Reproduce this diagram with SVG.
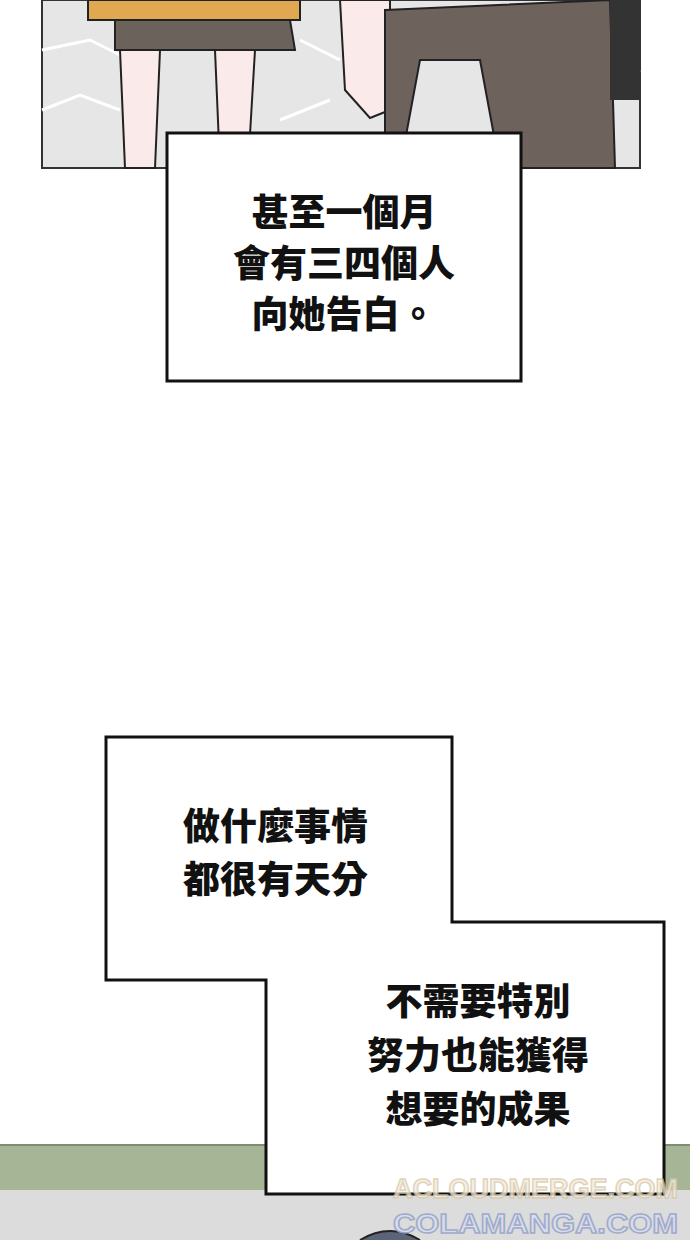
<svg xmlns="http://www.w3.org/2000/svg" width="690" height="1240" viewBox="0 0 690 1240">
<style>
.t{font-family:"Noto Sans CJK TC","Noto Sans CJK SC",sans-serif;font-weight:900;font-size:37px;fill:#111}
.box{fill:#fff;stroke:#111;stroke-width:3}
</style>
<rect width="690" height="1240" fill="#fff"/>
<g id="top-panel">
<rect x="42" y="0" width="598" height="168" fill="#e6e6e6" stroke="#333" stroke-width="2"/>
<path d="M42 50 L90 40 L130 60 M42 110 L80 95 L120 110 M300 40 L340 60 M280 120 L330 100 M560 60 L600 80 L640 70 M520 120 L560 110" stroke="#fff" stroke-width="3" fill="none"/>
<path d="M88 0 L300 0 L300 20 L88 20 Z" fill="#e0a850" stroke="#222" stroke-width="2"/>
<path d="M115 20 L290 20 L295 50 L115 50 Z" fill="#6b625c" stroke="#222" stroke-width="2"/>
<path d="M120 50 L160 50 L155 168 L125 168 Z M215 50 L255 50 L248 168 L220 168 Z" fill="#fbeaea" stroke="#222" stroke-width="2"/>
<path d="M340 0 L390 0 L390 110 L370 118 L345 90 Z" fill="#fbeaea" stroke="#222" stroke-width="2"/>
<path d="M385 10 L610 0 L615 168 L500 168 L480 60 L420 60 L400 168 L385 168 Z" fill="#6d625c" stroke="#222" stroke-width="2"/>
<rect x="610" y="0" width="30" height="100" fill="#333"/>
</g>
<g id="box1">
<rect class="box" x="167" y="133" width="354" height="248"/>
<text class="t" x="344" y="226" text-anchor="middle">甚至一個月</text>
<text class="t" x="344" y="277" text-anchor="middle">會有三四個人</text>
<text class="t" x="344" y="328" text-anchor="middle">向她告白。</text>
</g>
<g id="bottom-scene">
<rect x="0" y="1145" width="690" height="45" fill="#a6b596"/>
<rect x="0" y="1190" width="690" height="50" fill="#dcdcdc"/>
<line x1="0" y1="1145" x2="690" y2="1145" stroke="#7d8d70" stroke-width="2"/>
<path d="M360 1240 Q390 1222 420 1240" fill="#5c6478" stroke="#222" stroke-width="2"/>
</g>
<g id="box2">
<path class="box" d="M106 737 L452 737 L452 922 L664 922 L664 1194 L266 1194 L266 980 L106 980 Z"/>
<text class="t" x="183" y="840">做什麼事情</text>
<text class="t" x="183" y="893">都很有天分</text>
<text class="t" x="478" y="1015" text-anchor="middle">不需要特別</text>
<text class="t" x="478" y="1069" text-anchor="middle">努力也能獲得</text>
<text class="t" x="478" y="1123" text-anchor="middle">想要的成果</text>
</g>
<g id="watermark" font-family="Liberation Sans,sans-serif" font-weight="bold" font-size="28" stroke-width="1.5">
<text x="393" y="1198" textLength="285" lengthAdjust="spacingAndGlyphs" stroke="#d8c9a8" fill="#f3ece0" opacity="0.8">ACLOUDMERGE.COM</text>
<text x="393" y="1233" textLength="285" lengthAdjust="spacingAndGlyphs" stroke="#9aa6c8" fill="#d6ddef" opacity="0.9">COLAMANGA.COM</text>
</g>
</svg>
